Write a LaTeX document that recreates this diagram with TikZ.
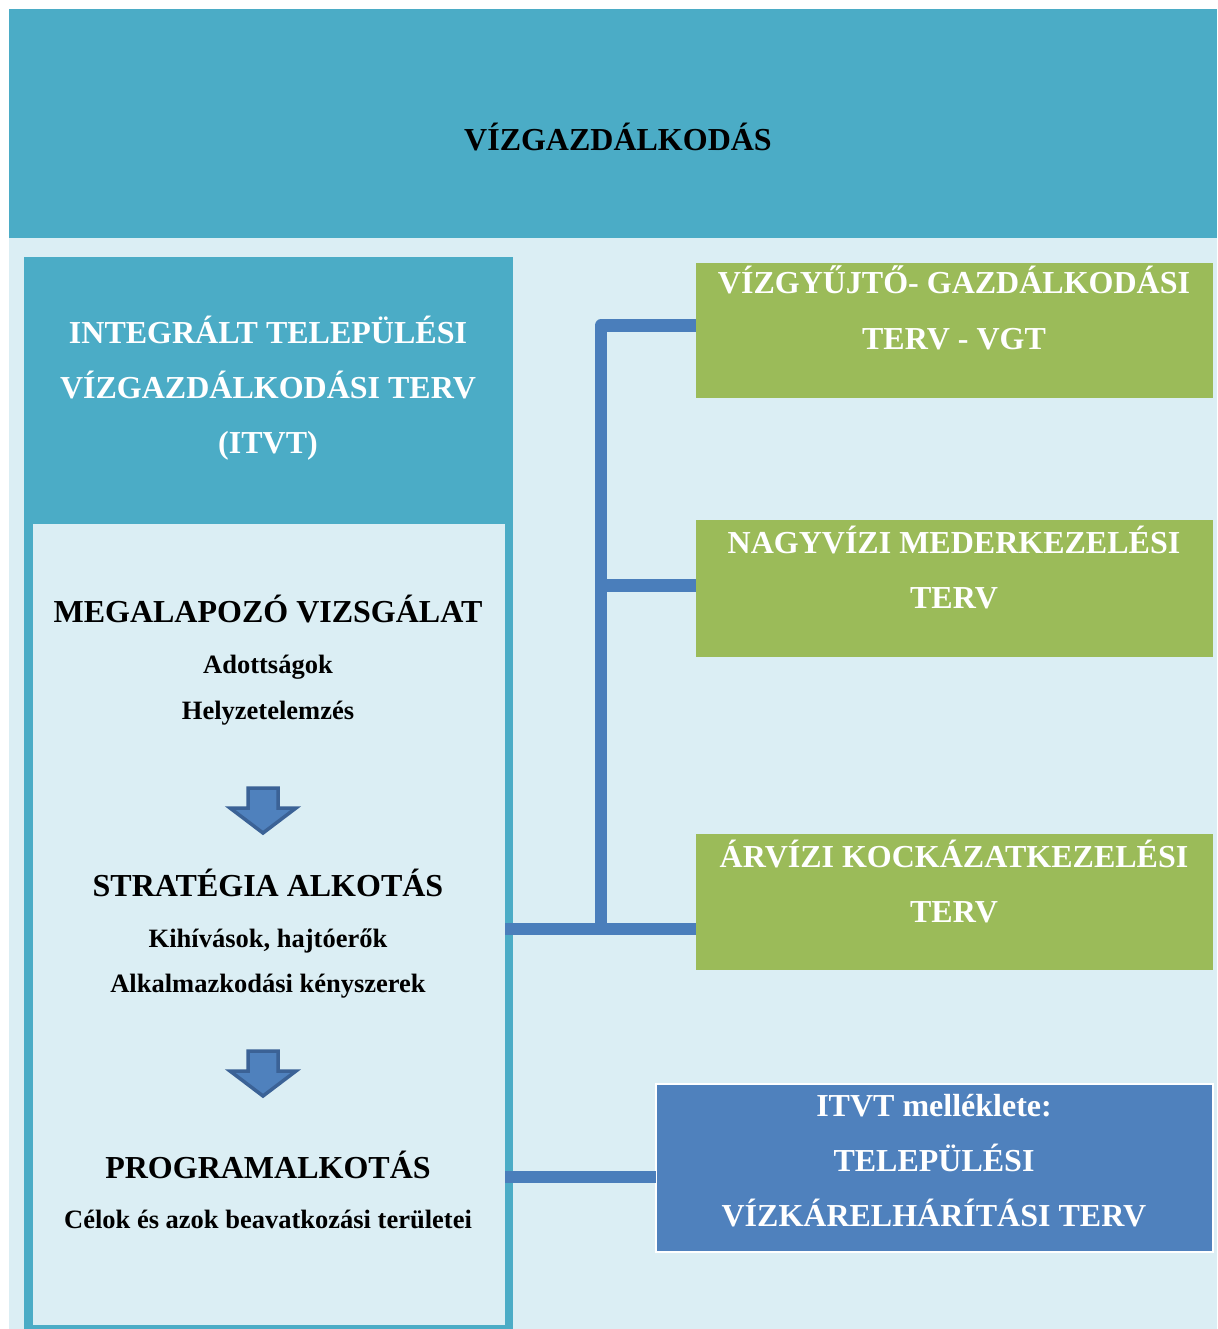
\documentclass[tikz,border=0pt]{standalone}
\usepackage{fontspec}
\setmainfont{Liberation Serif}
\usetikzlibrary{calc}
\definecolor{teal}{HTML}{4BACC6}
\definecolor{pale}{HTML}{DBEEF4}
\definecolor{leaf}{HTML}{9BBB59}
\definecolor{steel}{HTML}{4F81BD}
\definecolor{wire}{HTML}{4A7EBB}
\definecolor{rim}{HTML}{3B6296}
\tikzset{
  px/.style={x=1pt,y=-1pt},
  panel/.style={draw=none,inner sep=0pt,outer sep=0pt,anchor=north west},
  big/.style={font=\fontsize{32}{38}\bfseries\selectfont,anchor=base,inner sep=0pt},
  small/.style={font=\fontsize{26.5}{32}\bfseries\selectfont,anchor=base,inner sep=0pt},
  conn/.style={draw=wire,line width=12.5pt},
  downarrow/.style={fill=steel,draw=rim,line width=3.5pt,line join=miter}
}
\begin{document}
\begin{tikzpicture}[px]
\useasboundingbox (0,0) rectangle (1217,1329);
\fill[white] (0,0) rectangle (1217,1329);
% background areas
\node[panel,fill=pale,minimum width=1208pt,minimum height=1091pt] (bg) at (9,238) {};
\node[panel,fill=teal,minimum width=1208pt,minimum height=229pt] (top) at (9,9) {};
\node[panel,fill=teal,minimum width=489pt,minimum height=1072pt] (itvt) at (24,257) {};
\node[panel,fill=pale,minimum width=472pt,minimum height=801pt] (inner) at (33,524) {};
% right boxes
\node[panel,fill=leaf,minimum width=517pt,minimum height=135pt] (g1) at (696,263) {};
\node[panel,fill=leaf,minimum width=517pt,minimum height=137pt] (g2) at (696,520) {};
\node[panel,fill=leaf,minimum width=517pt,minimum height=136pt] (g3) at (696,834) {};
\node[panel,fill=steel,draw=white,line width=2.5pt,minimum width=557pt,minimum height=168pt] (b1) at (656,1084) {};
% connectors
\coordinate (j) at (601,929);
\draw[conn] (inner.east |- j) -- (g3.west |- j);
\draw[conn,line join=round] (j) -- (601,325.5) -- (g1.west |- 0,325.5);
\draw[conn] (j |- 0,585.5) -- (g2.west |- 0,585.5);
\draw[conn] (inner.east |- 0,1177) -- (b1.west |- 0,1177);
% block arrows
\foreach \dy/\nm in {0/a1,263/a2}{
  \draw[downarrow] (248,788+\dy) -- (278,788+\dy) -- (278,808+\dy) -- (296,808+\dy)
     -- (263,833+\dy) -- (230,808+\dy) -- (248,808+\dy) -- cycle;
}
% texts
\node[big] (t0) at (618,151) {VÍZGAZDÁLKODÁS};
\node[big,text=white] (t1) at (268,343) {INTEGRÁLT TELEPÜLÉSI};
\node[big,text=white] (t2) at (268,398) {VÍZGAZDÁLKODÁSI TERV};
\node[big,text=white] (t3) at (268,453) {(ITVT)};
\node[big] (m1) at (268,622) {MEGALAPOZÓ VIZSGÁLAT};
\node[small] (m2) at (268,673) {Adottságok};
\node[small] (m3) at (268,719) {Helyzetelemzés};
\node[big] (s1) at (268,896) {STRATÉGIA ALKOTÁS};
\node[small] (s2) at (268,947) {Kihívások, hajtóerők};
\node[small] (s3) at (268,992) {Alkalmazkodási kényszerek};
\node[big] (p1) at (268,1178) {PROGRAMALKOTÁS};
\node[small] (p2) at (268,1228) {Célok és azok beavatkozási területei};
\node[big,text=white] (g1a) at (954,294) {VÍZGYŰJTŐ- GAZDÁLKODÁSI};
\node[big,text=white] (g1b) at (954,349) {TERV - VGT};
\node[big,text=white] (g2a) at (954,553) {NAGYVÍZI MEDERKEZELÉSI};
\node[big,text=white] (g2b) at (954,608) {TERV};
\node[big,text=white] (g3a) at (954,867) {ÁRVÍZI KOCKÁZATKEZELÉSI};
\node[big,text=white] (g3b) at (954,922) {TERV};
\node[big,text=white] (b1a) at (934,1116) {ITVT melléklete:};
\node[big,text=white] (b1b) at (934,1171) {TELEPÜLÉSI};
\node[big,text=white] (b1c) at (934,1226) {VÍZKÁRELHÁRÍTÁSI TERV};
\end{tikzpicture}
\end{document}
